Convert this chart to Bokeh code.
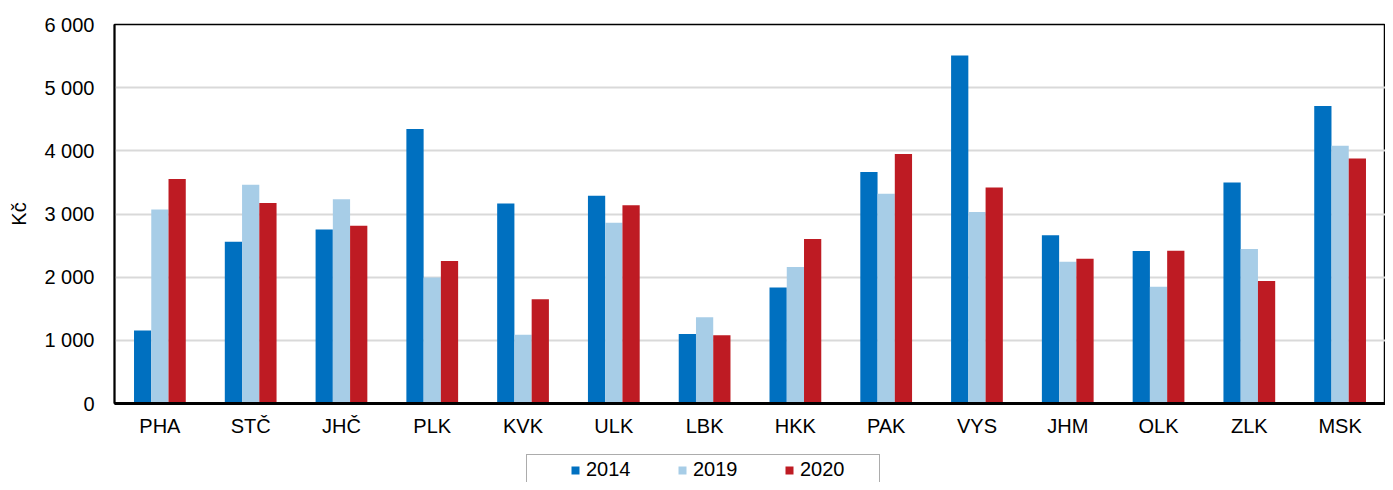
from bokeh.plotting import figure
from bokeh.layouts import column
from bokeh.models import (FactorRange, Range1d, Legend, LegendItem, FixedTicker,
                          ColumnDataSource)
from bokeh.transform import dodge
from bokeh.embed import file_html
from bokeh.resources import INLINE

categories = ["PHA", "STČ", "JHČ", "PLK", "KVK", "ULK", "LBK",
              "HKK", "PAK", "VYS", "JHM", "OLK", "ZLK", "MSK"]
v2014 = [1155, 2560, 2755, 4345, 3165, 3290, 1100, 1835, 3665, 5510, 2665, 2415, 3500, 4710]
v2019 = [3070, 3465, 3235, 1995, 1090, 2860, 1365, 2160, 3320, 3030, 2245, 1850, 2445, 4080]
v2020 = [3555, 3175, 2815, 2255, 1650, 3140, 1080, 2605, 3950, 3420, 2290, 2420, 1940, 3880]
series_names = ["2014", "2019", "2020"]
series_colors = ["#0070C0", "#A7CDE7", "#BE1B23"]
y_ticks = [0, 1000, 2000, 3000, 4000, 5000, 6000]
y_tick_labels = ["0", "1 000", "2 000", "3 000", "4 000", "5 000", "6 000"]
y_label = "Kč"

FONT = "Liberation Sans"
FS = "20px"

src = ColumnDataSource(dict(cat=categories, v2014=v2014, v2019=v2019, v2020=v2020))
x_range = FactorRange(*categories, range_padding=0)
y_range = Range1d(0, 6000)

p = figure(width=1385, height=452, x_range=x_range, y_range=y_range,
           output_backend="svg", toolbar_location=None,
           min_border_left=114, min_border_right=0, min_border_top=24, min_border_bottom=49)

bw = 0.19
offsets = [-bw, 0, bw]
fields = ["v2014", "v2019", "v2020"]
for f, off, col in zip(fields, offsets, series_colors):
    p.vbar(x=dodge("cat", off, range=x_range), top=f, width=bw, source=src,
           fill_color=col, line_color=None)

p.xgrid.grid_line_color = None
p.ygrid.grid_line_color = "#d9d9d9"
p.ygrid.grid_line_width = 2
p.yaxis.ticker = FixedTicker(ticks=y_ticks)
p.yaxis.major_label_overrides = {t: l for t, l in zip(y_ticks, y_tick_labels)}

for ax in (p.xaxis[0], p.yaxis[0]):
    ax.major_tick_out = 0
    ax.major_tick_in = 0
    ax.minor_tick_out = 0
    ax.minor_tick_in = 0
    ax.major_label_text_font = FONT
    ax.major_label_text_font_size = FS
    ax.major_label_text_color = "#000000"
    ax.axis_line_color = "#000000"

p.xaxis.axis_line_width = 3
p.yaxis.axis_line_width = 2
p.xaxis.major_label_standoff = 11
p.yaxis.major_label_standoff = 20
p.yaxis.axis_label = y_label
p.yaxis.axis_label_text_font = FONT
p.yaxis.axis_label_text_font_size = FS
p.yaxis.axis_label_text_font_style = "normal"
p.yaxis.axis_label_text_color = "#000000"
p.yaxis.axis_label_standoff = 11

p.outline_line_color = "#000000"
p.outline_line_width = 1.5

# legend strip below the chart
lg = figure(width=1385, height=30, x_range=x_range, y_range=y_range,
            output_backend="svg", toolbar_location=None,
            x_axis_location=None, y_axis_location=None,
            min_border_left=0, min_border_right=0, min_border_top=0, min_border_bottom=0)
lg.xgrid.grid_line_color = None
lg.ygrid.grid_line_color = None
lg.outline_line_color = None
items = []
for f, col, name in zip(fields, series_colors, series_names):
    r = lg.scatter(x="cat", y=f, source=src, size=0, marker="square",
                   fill_color=col, line_color=None)
    items.append(LegendItem(label=name, renderers=[r]))

legend = Legend(items=items, orientation="horizontal", location=(412, -3),
                glyph_width=20, glyph_height=20, label_standoff=1,
                label_width=76, spacing=10, padding=3, margin=0,
                label_text_font=FONT, label_text_font_size=FS, label_text_color="#000000",
                border_line_color="#595959", border_line_width=1,
                background_fill_color="white", background_fill_alpha=1,
                title=" ", title_location="left", title_standoff=12,
                title_text_font_size=FS)
lg.add_layout(legend)

layout = column(p, lg, spacing=0)
open("out.html", "w").write(file_html(layout, INLINE))
